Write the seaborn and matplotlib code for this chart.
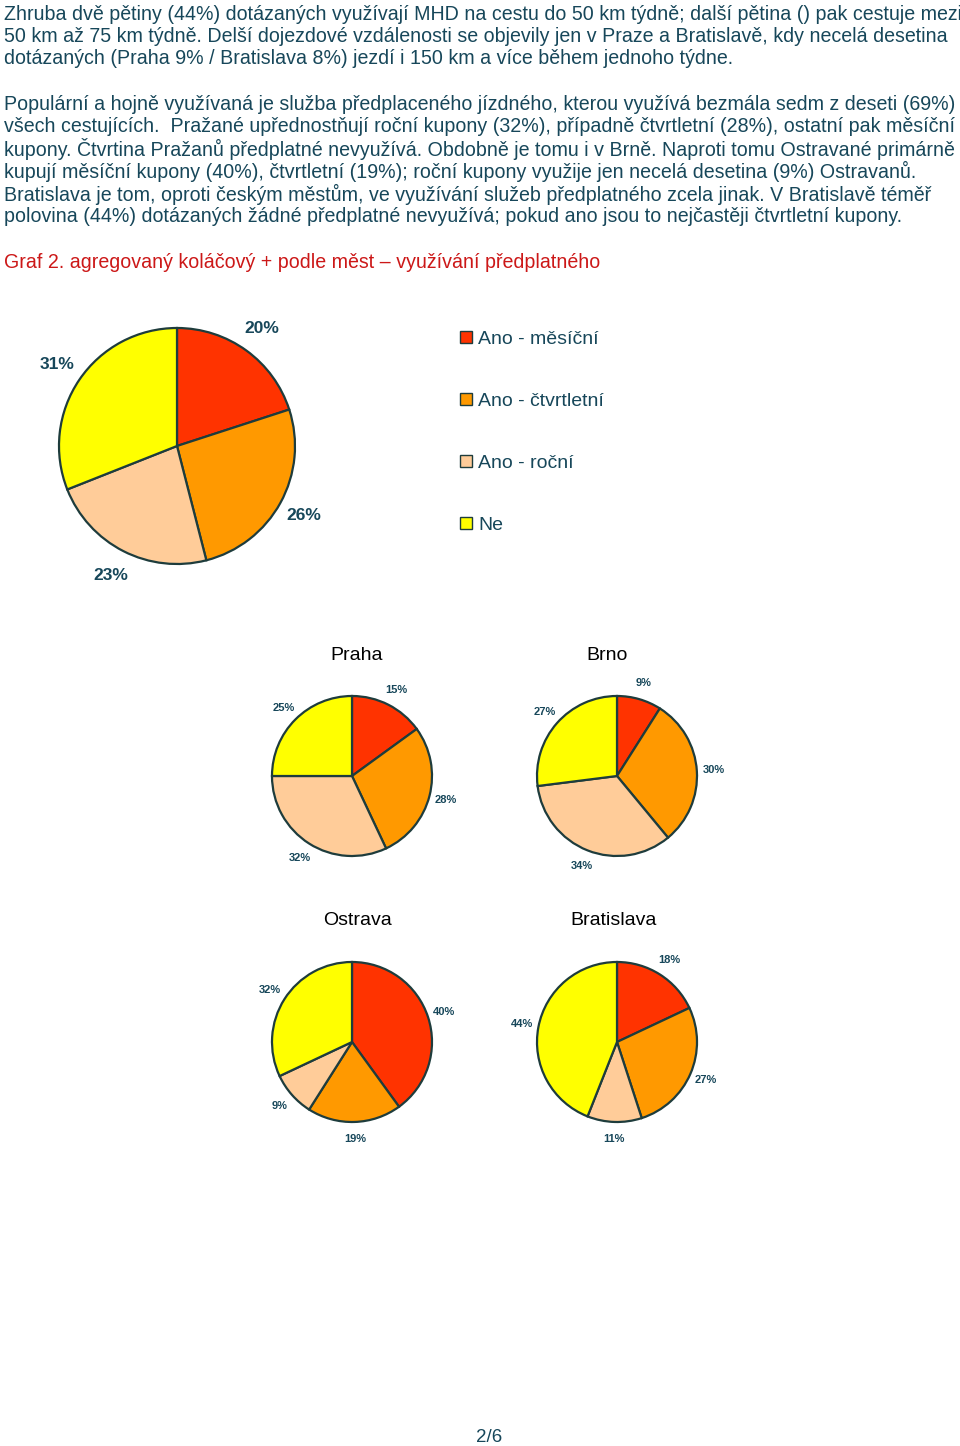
import matplotlib
matplotlib.use("Agg")
import matplotlib.pyplot as plt
import seaborn as sns

sns.set_theme(style="white")
plt.rcParams['font.family'] = ['Liberation Sans', 'DejaVu Sans']

# ---- data ----
categories = ["Ano - měsíční", "Ano - čtvrtletní", "Ano - roční", "Ne"]
colors = ["#FF3300", "#FF9900", "#FFCC99", "#FFFF00"]
total = [20, 26, 23, 31]
cities = ["Praha", "Brno", "Ostrava", "Bratislava"]
praha = [15, 28, 32, 25]
brno = [9, 30, 34, 27]
ostrava = [40, 19, 9, 32]
bratislava = [18, 27, 11, 44]
city_values = [praha, brno, ostrava, bratislava]

para1 = [
    "Zhruba dvě pětiny (44%) dotázaných využívají MHD na cestu do 50 km týdně; další pětina () pak cestuje mezi",
    "50 km až 75 km týdně. Delší dojezdové vzdálenosti se objevily jen v Praze a Bratislavě, kdy necelá desetina",
    "dotázaných (Praha 9% / Bratislava 8%) jezdí i 150 km a více během jednoho týdne.",
]
para2 = [
    "Populární a hojně využívaná je služba předplaceného jízdného, kterou využívá bezmála sedm z deseti (69%)",
    "všech cestujících.  Pražané upřednostňují roční kupony (32%), případně čtvrtletní (28%), ostatní pak měsíční",
    "kupony. Čtvrtina Pražanů předplatné nevyužívá. Obdobně je tomu i v Brně. Naproti tomu Ostravané primárně",
    "kupují měsíční kupony (40%), čtvrtletní (19%); roční kupony využije jen necelá desetina (9%) Ostravanů.",
    "Bratislava je tom, oproti českým městům, ve využívání služeb předplatného zcela jinak. V Bratislavě téměř",
    "polovina (44%) dotázaných žádné předplatné nevyužívá; pokud ano jsou to nejčastěji čtvrtletní kupony.",
]
caption = "Graf 2. agregovaný koláčový + podle měst – využívání předplatného"
page_label = "2/6"

TEXT = "#17475a"
EDGE = "#1e3c3c"
W, H = 960, 1446
BODY_FS = 14.1

fig = plt.figure(figsize=(W / 100, H / 100), dpi=100)
fig.patch.set_facecolor("white")


def fy(y):
    return 1 - y / H


# ---- body text ----
for i, line in enumerate(para1):
    fig.text(4 / W, fy(14 + 22.3 * i), line, fontsize=BODY_FS, color=TEXT, va="center", ha="left")
for i, line in enumerate(para2):
    fig.text(4 / W, fy(104 + 22.6 * i), line, fontsize=BODY_FS, color=TEXT, va="center", ha="left")
fig.text(4 / W, fy(262), caption, fontsize=BODY_FS, color="#cc1818", va="center", ha="left")
fig.text(489 / W, fy(1437), page_label, fontsize=13.5, color=TEXT, va="center", ha="center")


def pie_axes(cx, cy, r, k=1.6):
    s = r * k
    ax = fig.add_axes([(cx - s) / W, 1 - (cy + s) / H, 2 * s / W, 2 * s / H])
    ax.axis("off")
    return ax, k


def draw_pie(ax, k, vals, fs, dist=1.21):
    wedges, texts = ax.pie(
        vals, colors=colors, startangle=90, counterclock=False,
        labels=[f"{v}%" for v in vals], labeldistance=dist,
        wedgeprops=dict(edgecolor=EDGE, linewidth=1.6),
        textprops=dict(color=TEXT, fontsize=fs, fontweight="bold"),
    )
    for t in texts:
        t.set_ha("center")
        t.set_va("center")
    ax.set_xlim(-k, k)
    ax.set_ylim(-k, k)
    ax.set_aspect("equal")
    ax.axis("off")
    return wedges


# ---- main pie ----
ax0, k0 = pie_axes(177, 446, 118)
wedges = draw_pie(ax0, k0, total, 12.5, dist=1.23)

# legend
leg = fig.legend(
    handles=wedges, labels=categories, loc="upper left",
    bbox_to_anchor=(460 / W, fy(331)), frameon=False, fontsize=14,
    handlelength=0.6, handleheight=0.6, handletextpad=0.35,
    labelspacing=2.31, borderpad=0, borderaxespad=0,
)
for t in leg.get_texts():
    t.set_color(TEXT)
for h in leg.legend_handles:
    h.set_linewidth(1.0)

# ---- city pies ----
centers = [(352, 776), (617, 776), (352, 1042), (617, 1042)]
title_pos = [(357, 656), (607, 656), (357, 921), (614, 921)]
for name, vals, (cx, cy), (tx, ty) in zip(cities, city_values, centers, title_pos):
    ax, k = pie_axes(cx, cy, 80)
    draw_pie(ax, k, vals, 8)
    fig.text(tx / W, fy(ty), name, fontsize=14, color="black", ha="center", va="center")

fig.savefig("out.png", dpi=100, facecolor="white")
